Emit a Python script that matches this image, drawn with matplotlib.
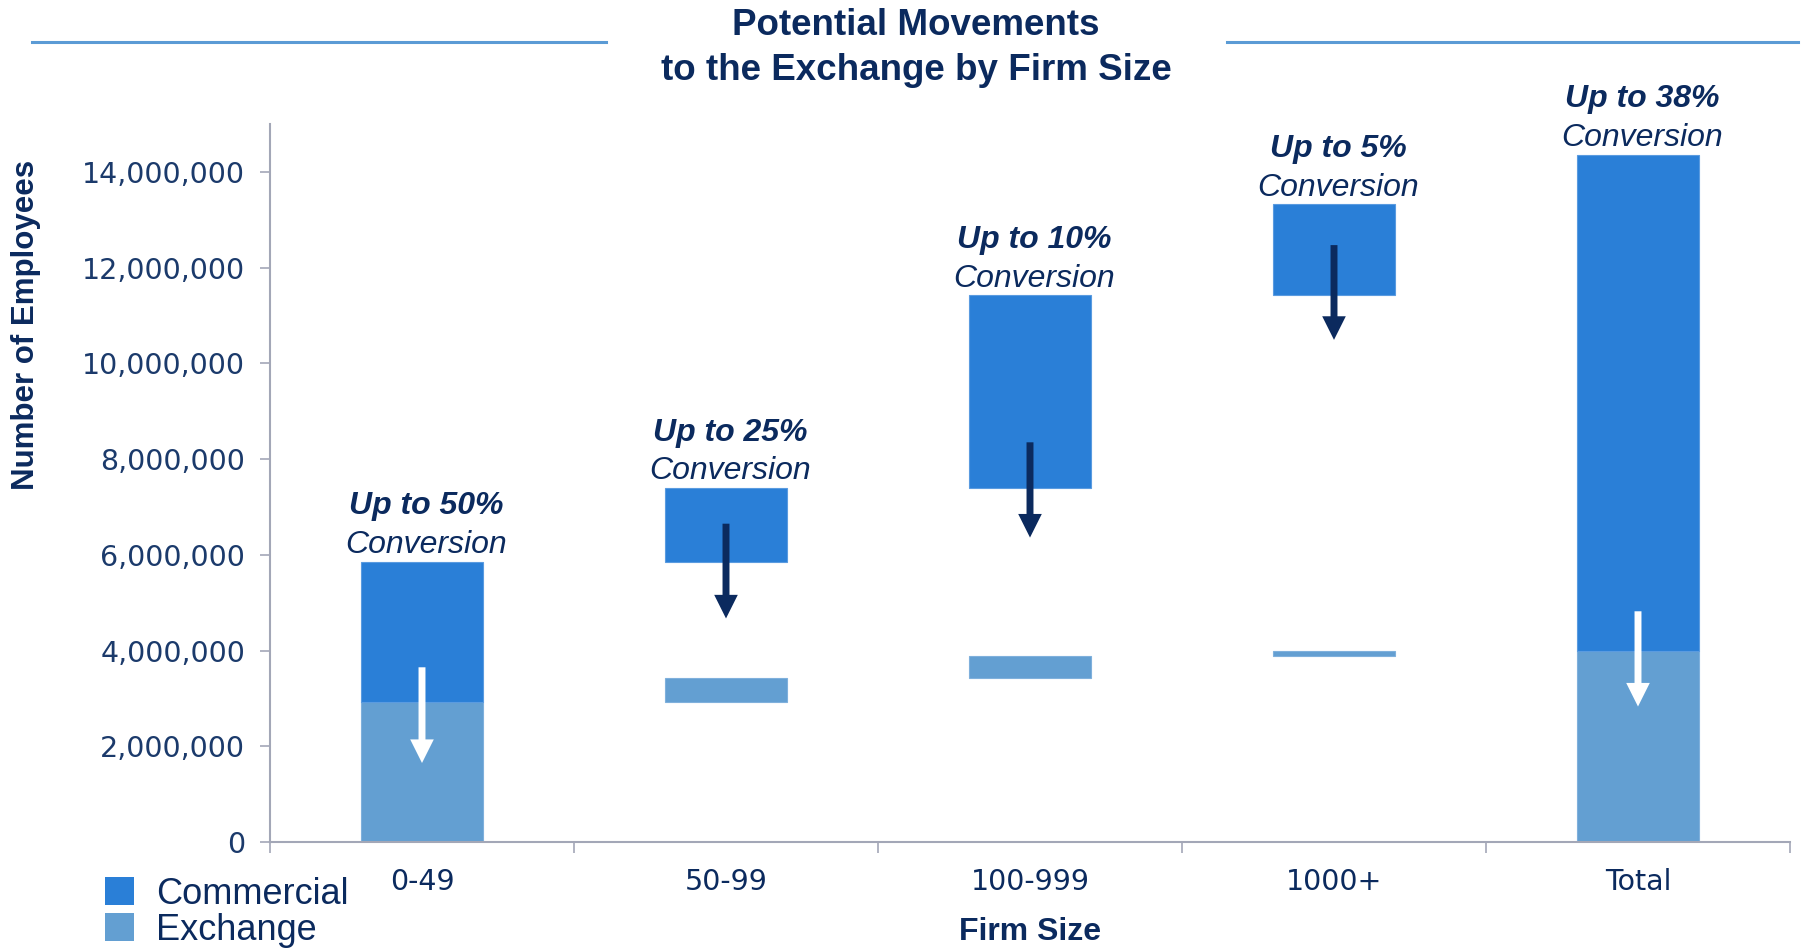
import matplotlib
matplotlib.use("Agg")
import matplotlib.pyplot as plt
from matplotlib.patches import Patch
from matplotlib.lines import Line2D
from matplotlib.ticker import FuncFormatter, FixedLocator

# Employees (millions) by firm size, shown as floating waterfall segments
categories = ["0-49", "50-99", "100-999", "1000+", "Total"]
exchange_bottom = [0.00, 2.93, 3.43, 3.89, 0.00]
exchange_top = [2.93, 3.43, 3.89, 3.99, 4.00]
commercial_bottom = [2.93, 5.86, 7.40, 11.42, 4.00]
commercial_top = [5.86, 7.40, 11.42, 13.32, 14.36]
conversion_labels = ["Up to 50%", "Up to 25%", "Up to 10%", "Up to 5%", "Up to 38%"]
# Movement arrows (millions): start and end of each arrow
arrow_from = [3.65, 6.65, 8.35, 12.47, 4.82]
arrow_to = [1.65, 4.67, 6.36, 10.49, 2.83]
y_ticks = [0, 2, 4, 6, 8, 10, 12, 14]

M = 1_000_000
NAVY = "#0B2A5E"
COMMERCIAL = "#2A7FD7"
EXCHANGE = "#639FD2"
SPINE = "#A3A7B7"
RULE = "#5B9BD5"
arrow_colors = ["white", NAVY, NAVY, NAVY, "white"]

plt.rcParams["font.family"] = ["Liberation Sans", "DejaVu Sans"]

fig = plt.figure(figsize=(18.02, 9.49), dpi=100)
ax = fig.add_axes([270 / 1802, 107 / 949, 1520 / 1802, 718 / 949])

x = list(range(len(categories)))
width = 0.40
ax.bar(x, [(t - b) * M for t, b in zip(exchange_top, exchange_bottom)],
       bottom=[b * M for b in exchange_bottom], width=width,
       color=EXCHANGE, edgecolor="#7FB0DC", linewidth=0.8, zorder=2)
ax.bar(x, [(t - b) * M for t, b in zip(commercial_top, commercial_bottom)],
       bottom=[b * M for b in commercial_bottom], width=width,
       color=COMMERCIAL, edgecolor="#5A9BE0", linewidth=0.8, zorder=2)

# Down arrows showing the shift from commercial to exchange coverage
for xi, y0, y1, c in zip(x, arrow_from, arrow_to, arrow_colors):
    ax.annotate("", xy=(xi, y1 * M), xytext=(xi, y0 * M),
                arrowprops=dict(arrowstyle="simple,head_length=17,head_width=17,tail_width=5",
                                mutation_scale=1, color=c, lw=0,
                                shrinkA=0, shrinkB=0),
                zorder=4)

# Conversion captions above each commercial segment
for xi, top, lab in zip(x, commercial_top, conversion_labels):
    ax.annotate("Conversion", xy=(xi, top * M), xytext=(3, 6),
                textcoords="offset points", ha="center", va="baseline",
                fontsize=23, style="italic", color=NAVY)
    ax.annotate(lab, xy=(xi, top * M), xytext=(3, 34),
                textcoords="offset points", ha="center", va="baseline",
                fontsize=23, style="italic", fontweight="bold", color=NAVY)

ax.set_xlim(-0.5, len(categories) - 0.5)
ax.set_ylim(0, 15 * M)

ax.set_yticks([v * M for v in y_ticks])
ax.yaxis.set_major_formatter(FuncFormatter(lambda v, p: f"{int(round(v)):,}"))
ax.tick_params(axis="y", direction="out", length=7, width=1.2, color=SPINE,
               pad=11, labelsize=20.5, labelcolor="#1B3A6B")
for lab in ax.get_yticklabels():
    lab.set_fontfamily("DejaVu Sans")

# Category boundaries get tick marks; labels sit at category centres
ax.xaxis.set_major_locator(FixedLocator([i - 0.5 for i in range(len(categories) + 1)]))
ax.xaxis.set_major_formatter(FuncFormatter(lambda v, p: ""))
ax.xaxis.set_minor_locator(FixedLocator(x))
ax.set_xticklabels(categories, minor=True)
ax.tick_params(axis="x", which="major", direction="out", length=8, width=1.2, color=SPINE)
ax.tick_params(axis="x", which="minor", length=0, pad=19, labelsize=20.5, labelcolor=NAVY)
for lab in ax.get_xticklabels(minor=True):
    lab.set_fontfamily("DejaVu Sans")

for side in ("top", "right"):
    ax.spines[side].set_visible(False)
for side in ("left", "bottom"):
    ax.spines[side].set_color(SPINE)
    ax.spines[side].set_linewidth(1.5)

ax.set_xlabel("Firm Size", fontsize=23, fontweight="bold", color=NAVY, labelpad=15)
fig.text(0.0145, 0.658, "Number of Employees", rotation=90, ha="center", va="center",
         fontsize=22.5, fontweight="bold", color=NAVY)

# Title with flanking rules
fig.text(916 / 1802, 1 - 48 / 949, "Potential Movements\nto the Exchange by Firm Size",
         ha="center", va="center", fontsize=26.5, fontweight="bold", color=NAVY,
         linespacing=1.38)
fig.add_artist(Line2D([32 / 1802, 606 / 1802], [1 - 42 / 949] * 2, color=RULE, lw=2.2))
fig.add_artist(Line2D([1227 / 1802, 1798 / 1802], [1 - 42 / 949] * 2, color=RULE, lw=2.2))

handles = [Patch(facecolor=COMMERCIAL, edgecolor="none", label="Commercial"),
           Patch(facecolor=EXCHANGE, edgecolor="none", label="Exchange")]
fig.legend(handles=handles, loc="lower left", bbox_to_anchor=(91 / 1802, -13 / 949),
           frameon=False, fontsize=26, labelcolor=NAVY, handlelength=0.8,
           handleheight=0.8, handletextpad=0.6, labelspacing=0.02, borderaxespad=0)

fig.savefig("out.png", dpi=100)
